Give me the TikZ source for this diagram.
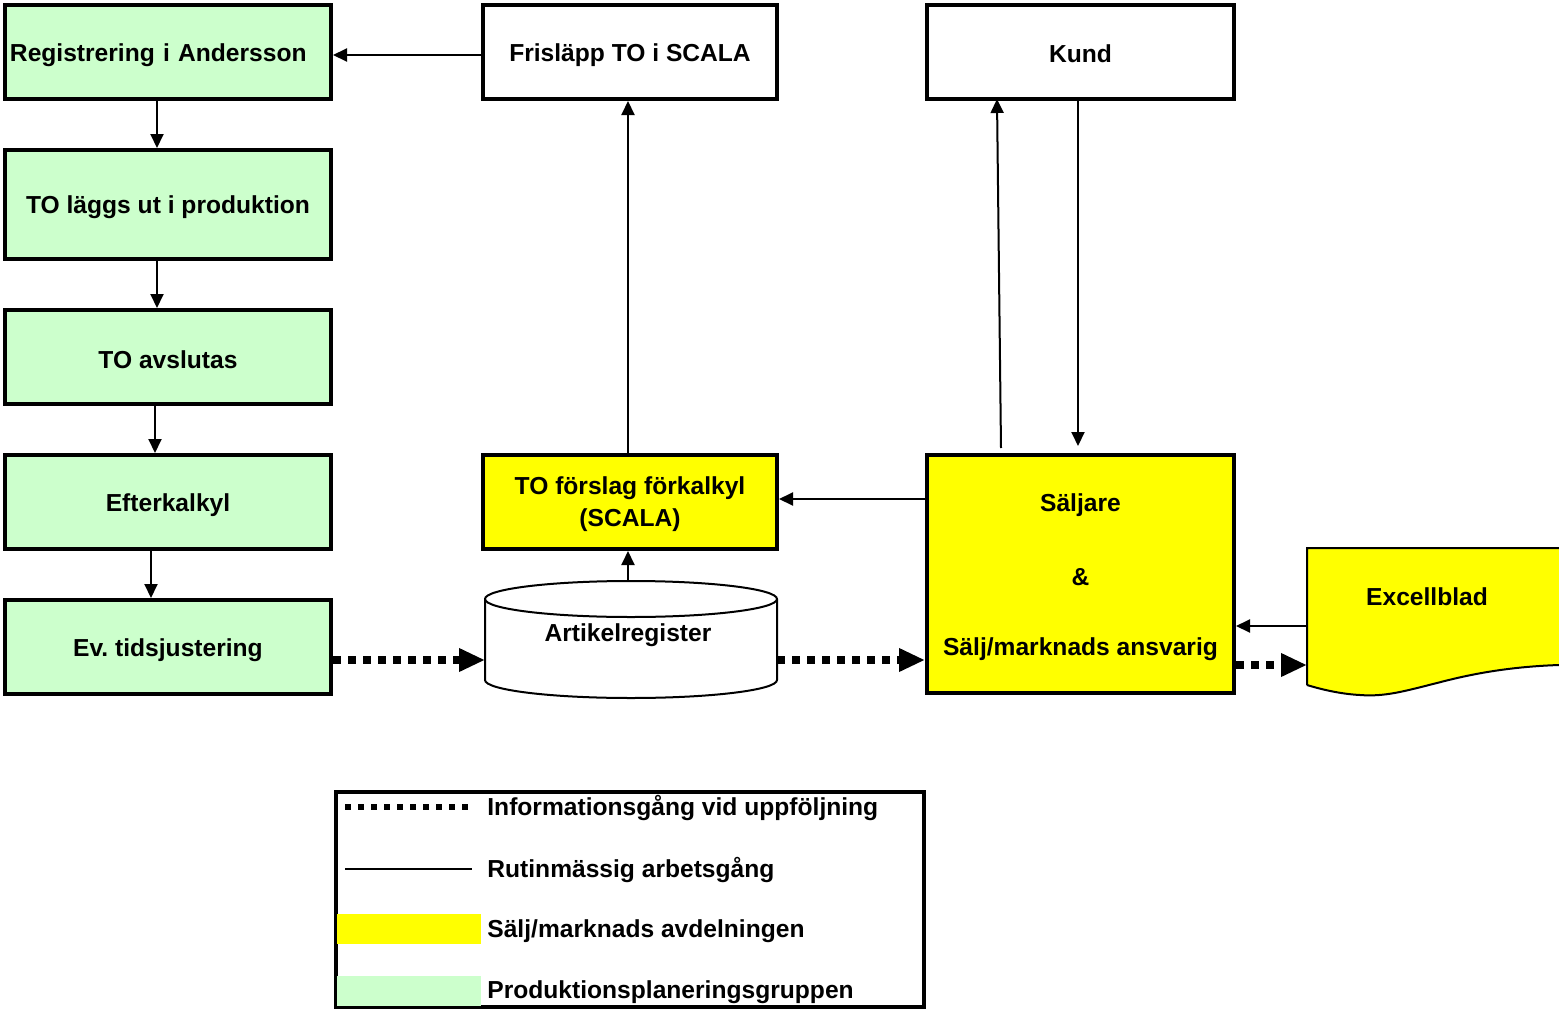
\documentclass[tikz,border=0pt]{standalone}
\usepackage{fontspec}
\setmainfont{Liberation Sans}
\usetikzlibrary{arrows.meta}
\definecolor{pgreen}{HTML}{CCFFCC}
\definecolor{syellow}{HTML}{FFFF00}
\newcommand{\dn}[2][1.5pt]{\raisebox{-#1}[\height][\depth]{#2}}
\frenchspacing
\begin{document}
\begin{tikzpicture}[x=0.5pt,y=-0.5pt,
  every node/.style={font=\fontsize{12.3}{14.5}\selectfont\bfseries},
  box/.style={draw, line width=2pt, minimum width=163pt, minimum height=47pt, inner sep=2pt, align=center},
  gbox/.style={box, fill=pgreen},
  ybox/.style={box, fill=syellow},
  wbox/.style={box, fill=white},
  flow/.style={line width=1pt, -{Triangle[length=7pt,width=6.5pt]}},
  info/.style={line width=4pt, dash pattern=on 4pt off 3.5pt, -{Triangle[length=13pt,width=11pt]}},
  txt/.style={anchor=west, inner sep=0pt}
]
\useasboundingbox (0,0) rectangle (1559,1012);

% left column (production planning)
\node[gbox, text width=158pt, align=left, inner xsep=2.5pt, minimum height=47pt] (reg) at (168,52) {\dn{Registrering i Andersson}};
\node[gbox, minimum height=54.5pt] (lagg) at (168,204.5) {\dn{TO läggs ut i produktion}};
\node[gbox] (avsl) at (168,357) {\dn{TO avslutas}};
\node[gbox] (efter) at (168,502) {\dn{Efterkalkyl}};
\node[gbox] (ev) at (168,647) {\dn{Ev.\ tidsjustering}};

% middle column
\node[wbox, minimum width=147pt] (fris) at (630,52) {\dn{Frisläpp TO i SCALA}};
\node[ybox, minimum width=147pt] (forsl) at (630,502) {\dn[1.3pt]{\begin{tabular}{@{}c@{}}TO förslag förkalkyl\\[1.2pt](SCALA)\end{tabular}}};

% cylinder Artikelregister
\node[minimum width=146pt, minimum height=58.5pt, inner sep=0pt] (art) at (631,639.5) {};
\draw[line width=1pt, fill=white] (485,599) -- (485,680) arc[start angle=180, end angle=0, x radius=146, y radius=18] -- (777,599) arc[start angle=0, end angle=-180, x radius=146, y radius=18] -- cycle;
\draw[line width=1pt] (485,599) arc[start angle=180, end angle=0, x radius=146, y radius=18];
\node[inner sep=0pt] (artt) at (628,635) {Artikelregister};

% right column
\node[wbox, minimum width=153.5pt] (kund) at (1080.5,52) {\dn[0.8pt]{Kund}};
\node[ybox, minimum width=153.5pt, minimum height=119pt] (salj) at (1080.5,574) {\dn[2pt]{\begin{tabular}{@{}c@{}}Säljare\\[22.5pt]\&\\[20.5pt]Sälj/marknads ansvarig\end{tabular}}};

% Excellblad
\draw[line width=1pt, fill=syellow] (1307,685) -- (1307,548) -- (1562,548) -- (1562,665) -- (1559,665)
  .. controls (1500,667) and (1460,677) .. (1437,683)
  .. controls (1405,691) and (1385,697) .. (1360,695)
  .. controls (1340,694) and (1320,689) .. (1307,685);
\coordinate (exl) at (1307,626);
\coordinate (exd) at (1307,665);
\node[inner sep=0pt] (exct) at (1427,597) {Excellblad};

% routine connectors
\draw[flow] (fris.west |- 0,55) -- (reg.east |- 0,55);
\draw[flow] (157,101) -- (157,148);
\draw[flow] (157,261) -- (157,308);
\draw[flow] (155,406) -- (155,453);
\draw[flow] (151,551) -- (151,598);
\draw[flow] (salj.west |- 0,499) -- (forsl.east |- 0,499);
\draw[flow] (628,581) -- (628,551);
\draw[flow] (628,453) -- (628,101);
\draw[flow] (1001,448) -- (997,99);
\draw[flow] (1078,101) -- (1078,446);
\draw[flow] (exl) -- (salj.east |- exl);

% information flow (dotted)
\draw[info] (ev.east |- 0,660) -- (485,660);
\draw[info] (777,660) -- (salj.west |- 0,660);
\draw[info] (salj.east |- exd) -- (exd);

% legend
\node[draw, line width=2pt, minimum width=294pt, minimum height=107.5pt, inner sep=0pt] (legend) at (630,899.5) {};
\coordinate (l1a) at (345,807); \coordinate (l1b) at (472,807);
\coordinate (l2a) at (345,869); \coordinate (l2b) at (472,869);
\draw[line width=3pt, dash pattern=on 3pt off 3.5pt] (l1a) -- (l1b);
\draw[line width=0.8pt] (l2a) -- (l2b);
\fill[syellow] (337,914) rectangle (481,944);
\fill[pgreen] (337,976) rectangle (481,1006);
\node[txt] (t1) at (487,808) {Informationsgång vid uppföljning};
\node[txt] (t2) at (487,870) {Rutinmässig arbetsgång};
\node[txt] (t3) at (487,931) {Sälj/marknads avdelningen};
\node[txt] (t4) at (487,992) {Produktionsplaneringsgruppen};
\end{tikzpicture}
\end{document}
